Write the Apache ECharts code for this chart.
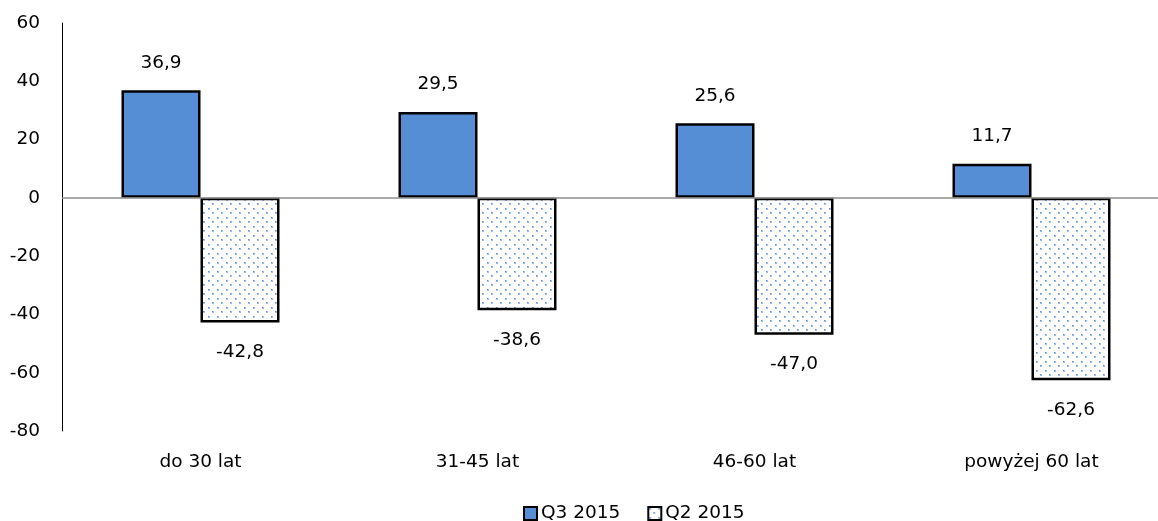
<!DOCTYPE html>
<html><head><meta charset="utf-8">
<script src="https://cdn.jsdelivr.net/npm/echarts@6/dist/echarts.min.js"></script>
<style>html,body{margin:0;padding:0;background:#fff;overflow:hidden}#c{width:1170px;height:521px}</style>
</head><body><div id="c"></div>
<script>
const categories = ['do 30 lat', '31-45 lat', '46-60 lat', 'powyżej 60 lat'];
const q3Values = [36.9, 29.5, 25.6, 11.7];
const q2Values = [-42.8, -38.6, -47.0, -62.6];
const yTicks = { min: -80, max: 60, interval: 20 };

function makePattern() {
  const c = document.createElement('canvas');
  c.width = 9; c.height = 9;
  const g = c.getContext('2d');
  g.fillStyle = '#ffffff'; g.fillRect(0, 0, 9, 9);
  g.fillStyle = 'rgba(91,143,214,0.6)';
  g.fillRect(1, 1, 2, 2); g.fillRect(5, 5, 2, 2);
  g.fillStyle = '#5b8fd6';
  g.fillRect(1, 1, 1, 1); g.fillRect(5, 5, 1, 1);
  return c;
}
const fmt = p => p.value.toFixed(1).replace('.', ',');
const font = '"DejaVu Sans", Verdana, sans-serif';
const fs = 18.5;

const chart = echarts.init(document.getElementById('c'));
chart.setOption({
  animation: false,
  textStyle: { fontFamily: font },
  grid: { left: 62, top: 23, bottom: 90, right: 0 },
  legend: {
    top: 504, left: 523, padding: 0, itemWidth: 13, itemHeight: 13, itemGap: 27,
    icon: 'rect',
    textStyle: { fontSize: fs, color: '#000', fontFamily: font, padding: [0, 0, 0, -1] },
    data: ['Q3 2015', 'Q2 2015']
  },
  xAxis: {
    type: 'category', data: categories,
    axisLine: { show: false, onZero: false },
    axisTick: { show: false },
    axisLabel: { fontSize: fs, color: '#000', margin: 22, fontFamily: font }
  },
  yAxis: {
    type: 'value', min: yTicks.min, max: yTicks.max, interval: yTicks.interval,
    axisLine: { show: true, lineStyle: { color: '#000', width: 1 } },
    axisTick: { show: false },
    splitLine: { show: false },
    axisLabel: { fontSize: fs, color: '#000', margin: 22, fontFamily: font }
  },
  series: [
    {
      name: 'Q3 2015', type: 'bar', data: q3Values, barWidth: 79, barGap: '0%',
      itemStyle: { color: '#558ed5', borderColor: '#000', borderWidth: 2.5 },
      label: { show: true, position: 'top', distance: 18, formatter: fmt, fontSize: fs, color: '#000', fontFamily: font },
      markLine: {
        silent: true, symbol: 'none', label: { show: false },
        lineStyle: { color: '#8c8c8c', width: 1.5, type: 'solid' },
        data: [{ yAxis: 0 }]
      },
      z: 3
    },
    {
      name: 'Q2 2015', type: 'bar', data: q2Values, barWidth: 79,
      itemStyle: { color: { image: makePattern(), repeat: 'repeat' }, borderColor: '#000', borderWidth: 2.5 },
      label: { show: true, position: 'bottom', distance: 20, formatter: fmt, fontSize: fs, color: '#000', fontFamily: font },
      z: 3
    }
  ]
});
</script></body></html>
